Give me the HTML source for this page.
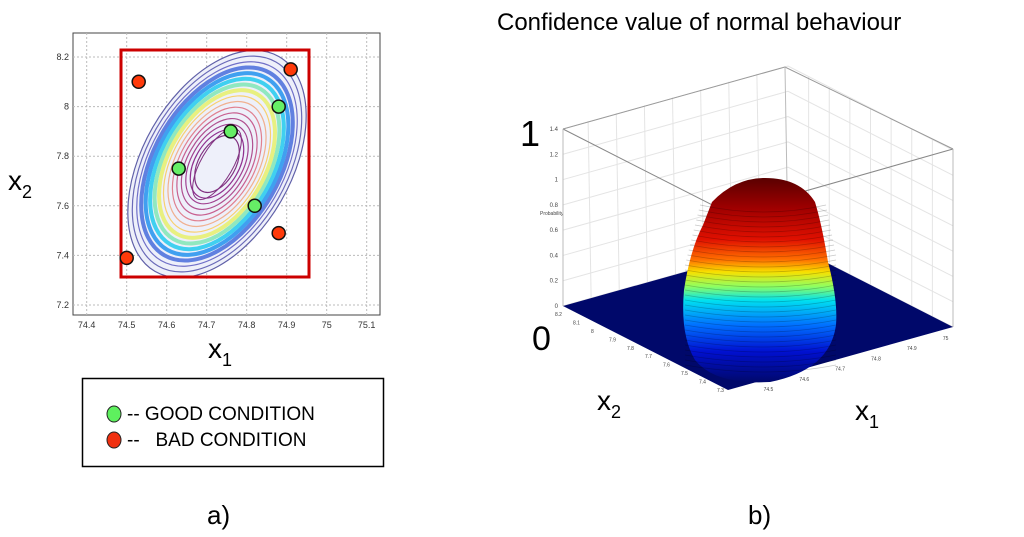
<!DOCTYPE html>
<html><head><meta charset="utf-8"><style>
body{margin:0;background:#fff;width:1024px;height:537px;overflow:hidden}
svg{display:block;font-family:"Liberation Sans",sans-serif}
</style></head><body>
<svg id="s" width="1024" height="537" viewBox="0 0 1024 537">
<defs>
<linearGradient id="jet" x1="0" y1="0" x2="0" y2="1">
<stop offset="0" stop-color="#5a0000"/><stop offset="0.15" stop-color="#a00000"/>
<stop offset="0.3" stop-color="#e01000"/><stop offset="0.4" stop-color="#ff7000"/>
<stop offset="0.46" stop-color="#f8e000"/><stop offset="0.53" stop-color="#90ff60"/>
<stop offset="0.6" stop-color="#00e0f0"/><stop offset="0.72" stop-color="#0070ff"/>
<stop offset="0.85" stop-color="#0010d0"/><stop offset="1" stop-color="#00086a"/>
</linearGradient>
</defs>
<g id="left"></g>
<g id="right"></g>
<text x="497" y="30" font-size="24">Confidence value of normal behaviour</text>
<text x="8" y="190" font-size="28">x<tspan font-size="18" dy="8">2</tspan></text>
<text x="208" y="358" font-size="28">x<tspan font-size="18" dy="8">1</tspan></text>
<rect x="82.5" y="378.5" width="301" height="88" fill="none" stroke="#000" stroke-width="1.5"/>
<ellipse cx="114" cy="414" rx="7" ry="8" fill="#5ef05e" stroke="#222"/>
<text x="127" y="420" font-size="19">-- GOOD CONDITION</text>
<ellipse cx="114" cy="440" rx="7" ry="8" fill="#f03010" stroke="#222"/>
<text x="127" y="446" font-size="19" xml:space="preserve">--   BAD CONDITION</text>
<text x="207" y="524" font-size="26">a)</text>
<text x="748" y="524" font-size="26">b)</text>
<text x="520" y="146" font-size="36">1</text>
<text x="532" y="350" font-size="34">0</text>
<text x="597" y="410" font-size="28">x<tspan font-size="18" dy="8">2</tspan></text>
<text x="855" y="420" font-size="28">x<tspan font-size="18" dy="8">1</tspan></text>
</svg>
<script>
const xTicks=["74.4","74.5","74.6","74.7","74.8","74.9","75","75.1"];
const xTickVals=[74.4,74.5,74.6,74.7,74.8,74.9,75.0,75.1];
const yTicks=["7.2","7.4","7.6","7.8","8","8.2"];
const yTickVals=[7.2,7.4,7.6,7.8,8.0,8.2];
const goodX=[74.63,74.76,74.88,74.82];
const goodY=[7.75,7.90,8.00,7.60];
const badX=[74.53,74.91,74.50,74.88];
const badY=[8.10,8.15,7.39,7.49];
const zTicks=["0","0.2","0.4","0.6","0.8","1","1.2","1.4"];
const zVals=[0,0.2,0.4,0.6,0.8,1.0,1.2,1.4];
const NS="http://www.w3.org/2000/svg";
function mk(p,t,a){const e=document.createElementNS(NS,t);for(const k in a)e.setAttribute(k,a[k]);p.appendChild(e);return e;}
const X=v=>126.7+(v-74.5)*400, Y=v=>305-(v-7.2)*248;
const L=document.getElementById('left');
let fr=mk(L,'rect',{x:73,y:33,width:307,height:282,fill:'none',stroke:'#444','stroke-width':1});


xTickVals.forEach((v,i)=>{
 let g=mk(L,'line',{x1:X(v),x2:X(v),y1:33,y2:315,stroke:'#bbb','stroke-dasharray':'2,2'});
 
 
 let t=mk(L,'text',{x:X(v),y:328,'font-size':9,'text-anchor':'middle',fill:'#333'});t.textContent=xTicks[i];
 
 
});
yTickVals.forEach((v,i)=>{
 let g=mk(L,'line',{x1:73,x2:380,y1:Y(v),y2:Y(v),stroke:'#bbb','stroke-dasharray':'2,2'});
 
 
 let t=mk(L,'text',{x:69,y:Y(v)+3,'font-size':9,'text-anchor':'end',fill:'#333'});t.textContent=yTicks[i];
 
 
});
const cx=217,cy=164;
const cols=['#6060a8','#6a6ab8','#7070c8','#6080e0','#40a0f0','#40d0f0','#90e8c0','#e8f080','#f8d070','#f0b090','#e08090','#c86090','#b05090','#a04090','#903090','#803080'];
const ct=mk(L,'g',{transform:`rotate(-60 ${cx} ${cy})`});


mk(ct,'ellipse',{cx:cx,cy:cy,rx:124,ry:74,fill:'#eef0fa'});
cols.forEach((c,i)=>{const f=1-i*0.05;
 mk(ct,'ellipse',{cx:cx,cy:cy,rx:124*f,ry:74*f,fill:'none',stroke:c,'stroke-width':i>=3&&i<=7?4:1.2});
});
mk(ct,'ellipse',{cx:cx,cy:cy,rx:40,ry:16,fill:'none',stroke:'#803080','stroke-width':1});
let rr=mk(L,'rect',{x:121,y:50,width:188,height:227,fill:'none',stroke:'#cc0000','stroke-width':3});


goodX.forEach((v,i)=>{let c=mk(L,'circle',{cx:X(v),cy:Y(goodY[i]),r:6.5,fill:'#66ee66',stroke:'#111','stroke-width':1.5});
 
 });
badX.forEach((v,i)=>{let c=mk(L,'circle',{cx:X(v),cy:Y(badY[i]),r:6.5,fill:'#ff3a0a',stroke:'#111','stroke-width':1.5});
 
 });
const R=document.getElementById('right');
const P={lt:[563,129],bt:[785,67],rt:[953,149],lf:[563,306],bf:[788,243],ff:[728,390],rf:[953,327],ft:[728,213]};
const pt=a=>a.join(',');
for(let k=1;k<8;k++){const t=k/8;
 const a=[P.lf[0]+(P.bf[0]-P.lf[0])*t,P.lf[1]+(P.bf[1]-P.lf[1])*t];
 mk(R,'line',{x1:a[0],y1:a[1],x2:a[0]-3,y2:a[1]-177,stroke:'#e4e4e4'});
 const b=[P.bf[0]+(P.rf[0]-P.bf[0])*t,P.bf[1]+(P.rf[1]-P.bf[1])*t];
 mk(R,'line',{x1:b[0],y1:b[1],x2:b[0],y2:b[1]-177,stroke:'#e4e4e4'});}
const Z=v=>v/1.4*177;
zVals.forEach((v,i)=>{const h=Z(v);
 let g=mk(R,'polyline',{points:`${P.lf[0]},${P.lf[1]-h} ${P.bf[0]},${P.bf[1]-h} ${P.rf[0]},${P.rf[1]-h}`,fill:'none',stroke:'#e4e4e4'});
 
 
 let t=mk(R,'text',{x:558,y:P.lf[1]-h+2,'font-size':6,'text-anchor':'end',fill:'#444'});t.textContent=zTicks[i];
 
 });
mk(R,'text',{x:540,y:215,'font-size':5,fill:'#444'}).textContent='Probability';
mk(R,'polyline',{points:[P.lt,P.bt,P.rt].map(pt).join(' '),fill:'none',stroke:'#999'});
mk(R,'polyline',{points:[P.lt,P.ft,P.rt].map(pt).join(' '),fill:'none',stroke:'#888'});
mk(R,'line',{x1:P.bt[0],y1:P.bt[1],x2:P.bf[0],y2:P.bf[1],stroke:'#bbb'});
mk(R,'line',{x1:P.rt[0],y1:P.rt[1],x2:P.rf[0],y2:P.rf[1],stroke:'#bbb'});
mk(R,'line',{x1:P.lt[0],y1:P.lt[1],x2:P.lf[0],y2:P.lf[1],stroke:'#bbb'});
let fl=mk(R,'polygon',{points:[P.lf,P.bf,P.rf,P.ff].map(pt).join(' '),fill:'#00086a'});


let d=mk(R,'path',{d:'M712,202 Q735,178 765,178 Q800,178 815,202 Q822,225 828,262 Q838,300 836,325 Q830,370 770,382 Q715,385 695,360 Q680,335 684,290 Q690,250 703,225 Z',fill:'url(#jet)'});


for(let y=205;y<370;y+=5){mk(R,'path',{d:`M${700-Math.min(15,(y-205)*0.25)},${y} Q765,${y+14} ${826+Math.min(10,(y-205)*0.2)},${y}`,fill:'none',stroke:'#000','stroke-opacity':0.22,'stroke-width':0.7});}
['8.2','8.1','8','7.9','7.8','7.7','7.6','7.5','7.4','7.3'].forEach((s,i)=>{const t=i/9;
 mk(R,'text',{x:563+(725-563)*t-8,y:316+(392-316)*t,'font-size':5,fill:'#444'}).textContent=s;});
['74.5','74.6','74.7','74.8','74.9','75'].forEach((s,i)=>{const t=(i+0.1)/5.3;
 mk(R,'text',{x:760+(950-760)*t,y:392-(392-338)*t,'font-size':5,fill:'#444'}).textContent=s;});
</script>
</body></html>
